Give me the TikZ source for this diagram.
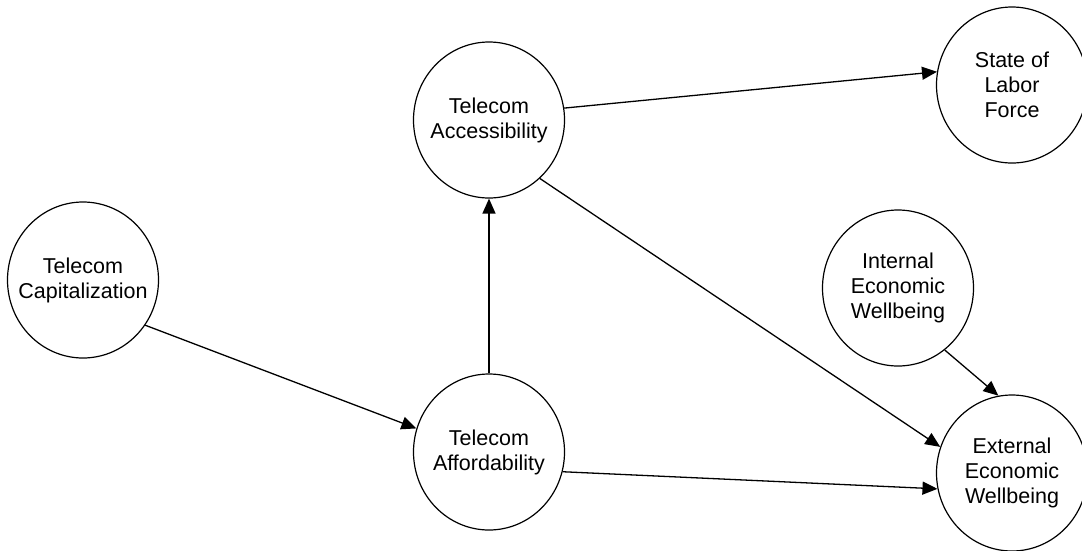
\documentclass[tikz,border=0pt]{standalone}
\usepackage{fontspec}
\setmainfont{Liberation Sans}
\usepackage{tikz}
\usetikzlibrary{arrows.meta,shapes.geometric}

\begin{document}
\begin{tikzpicture}[
    x=1pt, y=-1pt,
    font=\fontsize{21.5}{25}\selectfont,
    var/.style={ellipse, draw, line width=1.2pt, minimum width=151pt, minimum height=156pt,
      inner xsep=-20pt, inner ysep=0pt, align=center},
    link/.style={-{Triangle[length=15pt,width=13pt]}, line width=1.3pt},
  ]
  \useasboundingbox (0,0) rectangle (1082,550);

  % --- Constructs ---
  \node[var] (cap) at (83,280) {Telecom\\Capitalization};
  \node[var] (acc) at (489,120) {Telecom\\Accessibility};
  \node[var] (aff) at (489,452) {Telecom\\Affordability};
  \node[var] (lab) at (1012,85) {State of\\Labor\\Force};
  \node[var] (int) at (898,288) {Internal\\Economic\\Wellbeing};
  \node[var] (ext) at (1012,473) {External\\Economic\\Wellbeing};

  % --- Paths ---
  \draw[link] (cap.-36) -- (aff.162);
  \draw[link] (aff.north) -- (acc.south);
  \draw[link] (acc.9) -- (lab.170);
  \draw[link] (acc.-49) -- (ext.160);
  \draw[link] (aff.-15) -- (ext.-168);
  \draw[link] (int.-53) -- (ext.100);
\end{tikzpicture}
\end{document}
